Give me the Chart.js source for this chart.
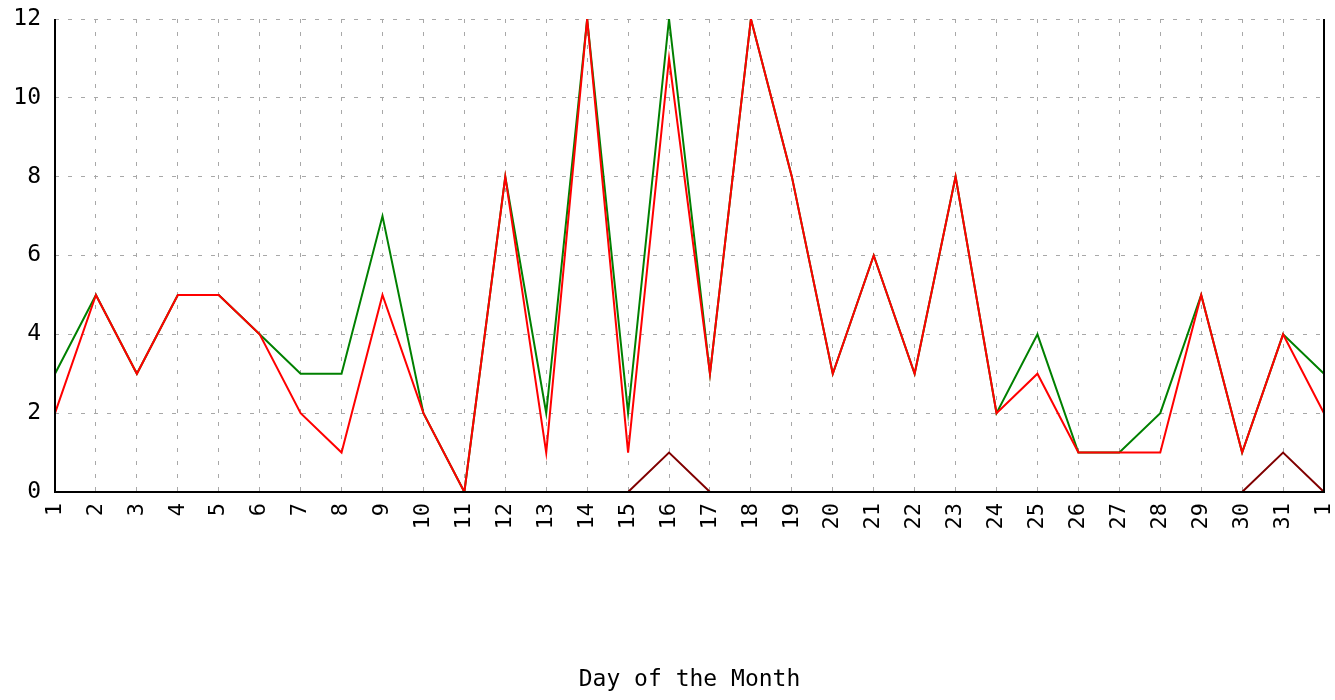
<!DOCTYPE html>
<html>
<head>
<meta charset="utf-8">
<title>Day of the Month</title>
<script src="https://cdn.jsdelivr.net/npm/chart.js@4/dist/chart.umd.min.js"></script>
<style>
  html, body { margin: 0; padding: 0; background: #fff; }
  #wrap { width: 1335px; height: 700px; position: relative; }
</style>
</head>
<body>
<div id="wrap"><canvas id="chart"></canvas></div>
<script>
// x カテゴリ（翌月の 1 日まで）
const days = ['1','2','3','4','5','6','7','8','9','10','11','12','13','14','15','16',
  '17','18','19','20','21','22','23','24','25','26','27','28','29','30','31','1'];

// 系列の値
const greenValues  = [3,5,3,5,5,4,3,3,7,2,0,8,2,12,2,12,3,12,8,3,6,3,8,2,4,1,1,2,5,1,4,3];
const redValues    = [2,5,3,5,5,4,2,1,5,2,0,8,1,12,1,11,3,12,8,3,6,3,8,2,3,1,1,1,5,1,4,2];
const maroonValues = [0,0,0,0,0,0,0,0,0,0,0,0,0,0,0,1,0,0,0,0,0,0,0,0,0,0,0,0,0,0,1,0];

const yTicks = [0, 2, 4, 6, 8, 10, 12];

const MONO = '"DejaVu Sans Mono", "Liberation Mono", monospace';

// 軸の枠（左・下・右）をデータの上に描く
const framePlugin = {
  id: 'frame',
  afterDatasetsDraw(chart) {
    const a = chart.chartArea;
    const ctx = chart.ctx;
    ctx.save();
    ctx.strokeStyle = '#000';
    ctx.lineWidth = 2;
    ctx.beginPath();
    ctx.moveTo(a.left, a.top);
    ctx.lineTo(a.left, a.bottom);
    ctx.lineTo(a.right, a.bottom);
    ctx.lineTo(a.right, a.top);
    ctx.stroke();
    ctx.restore();
  }
};

const gridStyle = {
  color: '#a8a8a8',
  lineWidth: 1,
  drawTicks: false
};

new Chart(document.getElementById('chart'), {
  type: 'line',
  data: {
    labels: days,
    datasets: [
      { label: 'c', data: maroonValues, borderColor: '#800000', order: 0 },
      { label: 'b', data: redValues, borderColor: '#ff0000', order: 1 },
      { label: 'a', data: greenValues, borderColor: '#008000', order: 2 }
    ].map(d => Object.assign(d, {
      borderWidth: 2,
      pointRadius: 0,
      tension: 0,
      fill: false
    }))
  },
  options: {
    responsive: true,
    maintainAspectRatio: false,
    animation: false,
    layout: { padding: { top: 19, right: 11, left: 0, bottom: 0 } },
    plugins: {
      legend: { display: false },
      tooltip: { enabled: false }
    },
    scales: {
      x: {
        offset: false,
        border: { display: false, dash: [4, 9] },
        grid: gridStyle,
        ticks: {
          autoSkip: false,
          minRotation: 90,
          maxRotation: 90,
          padding: 11,
          color: '#000',
          font: { family: MONO, size: 22 }
        },
        title: {
          display: true,
          text: 'Day of the Month',
          color: '#000',
          font: { family: MONO, size: 23 },
          padding: { top: 0, bottom: 6 }
        },
        afterFit(scale) {
          scale.height = 208;
          scale.paddingLeft = 0;
          scale.paddingRight = 0;
        }
      },
      y: {
        min: 0,
        max: 12,
        border: { display: false, dash: [4, 9] },
        grid: gridStyle,
        afterBuildTicks(scale) { scale.ticks = yTicks.map(v => ({ value: v })); },
        ticks: {
          padding: 14,
          color: '#000',
          font: { family: MONO, size: 23 }
        },
        afterFit(scale) {
          scale.width = 55;
          scale.paddingTop = 0;
          scale.paddingBottom = 0;
        }
      }
    }
  },
  plugins: [framePlugin]
});
</script>
</body>
</html>
